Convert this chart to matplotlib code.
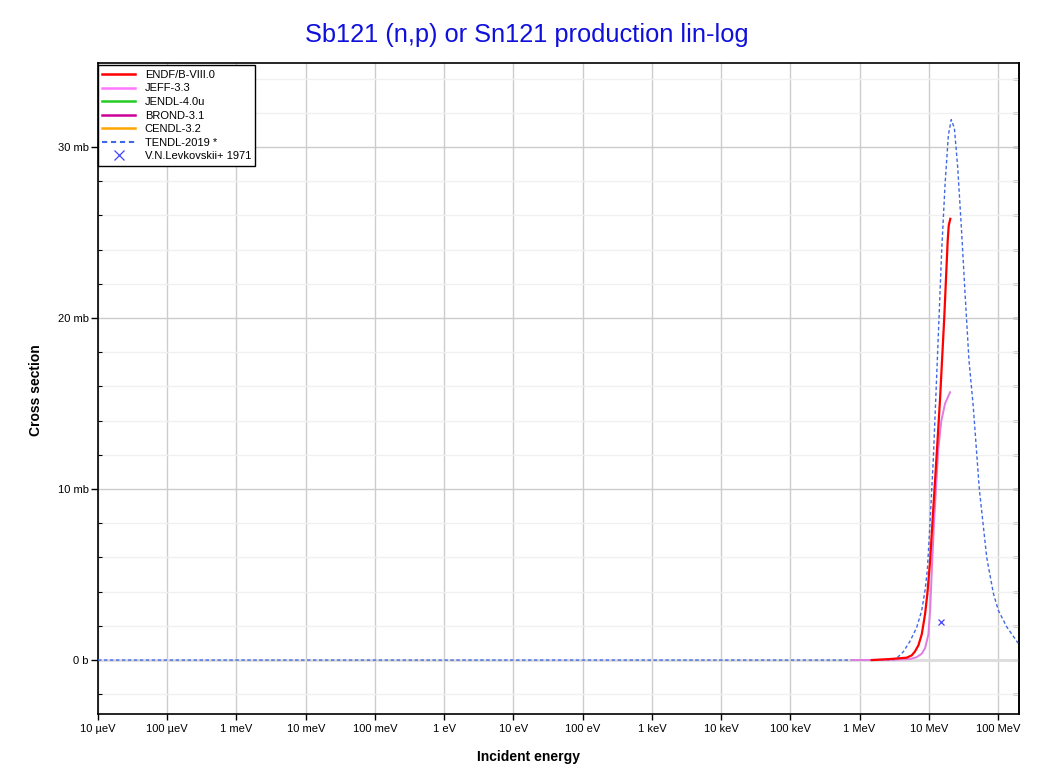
import matplotlib
matplotlib.use("Agg")
import matplotlib.pyplot as plt
from matplotlib.ticker import FixedLocator, MultipleLocator
from matplotlib.lines import Line2D

plt.rcParams['font.family'] = ['Liberation Sans', 'DejaVu Sans']

# ---------------- data (energies in MeV, cross sections in mb) ----------------
tendl_E = [1e-11, 3.08, 3.42, 4.28, 5.35, 6.68, 7.91, 8.85, 9.55, 10.42, 11.64, 12.59,
           13.74, 15.38, 17.18, 19.19, 21.13, 23.44, 26.18, 29.85, 33.34, 38.11, 43.95,
           53.70, 68.71, 85.70, 101.2, 133.4, 195.0]
tendl_xs = [0.0, 0.0, 0.1, 0.48, 1.1, 1.9, 2.9, 4.1, 5.3, 8.0, 11.8, 15.2,
            19.0, 24.0, 27.8, 30.7, 31.6, 31.1, 28.8, 25.0, 21.5, 17.5, 14.8,
            10.0, 6.0, 3.9, 2.9, 1.95, 0.99]

endf_E = [1.50, 2.74, 4.79, 5.65, 6.31, 7.08, 7.91, 8.85, 9.55, 10.45, 11.64, 13.0,
          14.52, 16.75, 18.75, 19.41, 20.46]
endf_xs = [0.0, 0.06, 0.14, 0.27, 0.5, 0.86, 1.5, 2.7, 3.9, 5.8, 8.9, 12.0,
           15.2, 20.06, 24.5, 25.4, 25.8]

jeff_E = [0.77, 3.0, 5.36, 6.68, 7.91, 8.85, 9.86, 10.5, 11.0, 11.9, 12.3, 13.7, 15.2,
          17.2, 20.3]
jeff_xs = [0.0, 0.02, 0.06, 0.17, 0.37, 0.7, 1.5, 3.0, 5.0, 8.0, 9.0, 12.3, 14.0,
           15.0, 15.66]

exp_E = [15.0]
exp_xs = [2.2]

xtick_vals = [1e-5, 1e-4, 1e-3, 1e-2, 1e-1, 1, 10, 100, 1e3, 1e4, 1e5, 1e6, 1e7, 1e8]
xtick_labels = ['10 µeV', '100 µeV', '1 meV', '10 meV', '100 meV', '1 eV', '10 eV',
                '100 eV', '1 keV', '10 keV', '100 keV', '1 MeV', '10 MeV', '100 MeV']
ytick_vals = [0, 10, 20, 30]
ytick_labels = ['0 b', '10 mb', '20 mb', '30 mb']

legend_labels = ['ENDF/B-VIII.0', 'JEFF-3.3', 'JENDL-4.0u', 'BROND-3.1', 'CENDL-3.2',
                 'TENDL-2019 *', 'V.N.Levkovskii+ 1971']
legend_colors = ['#ff0000', '#ff77ff', '#22cc22', '#cc0099', '#ffa500', '#4169e1', '#4444ff']

# ---------------- figure ----------------
fig = plt.figure(figsize=(10.45, 7.72), dpi=100)
ax = fig.add_axes([0.09378, 0.07474, 0.97512 - 0.09378, 0.91775 - 0.07474])
ax.set_xscale('log')
ax.set_xlim(1e-5, 2.01e8)
ax.set_ylim(-3.17, 34.88)

ev = lambda lst: [e * 1e6 for e in lst]

ax.plot(ev(tendl_E), tendl_xs, color=legend_colors[5], lw=1.0, ls=(0, (2.5, 1.8)), zorder=3)
ax.plot(ev(jeff_E), jeff_xs, color='#e07ce0', lw=1.4, zorder=4)
ax.plot(ev(endf_E), endf_xs, color=legend_colors[0], lw=1.6, zorder=5)
ax.plot(ev(exp_E), exp_xs, ls='none', marker='x', ms=5, mew=0.9, color=legend_colors[6], zorder=6)

# grid
ax.xaxis.set_major_locator(FixedLocator(xtick_vals))
ax.xaxis.set_minor_locator(FixedLocator([]))
ax.set_xticklabels(xtick_labels)
ax.yaxis.set_major_locator(FixedLocator(ytick_vals))
ax.set_yticklabels(ytick_labels)
ax.yaxis.set_minor_locator(MultipleLocator(2))
ax.grid(True, which='major', axis='x', color='#cccccc', lw=1.0)
ax.grid(True, which='major', axis='y', color='#cccccc', lw=1.0)
ax.grid(True, which='minor', axis='y', color='#f0f0f0', lw=1.0)
ax.axhline(0, color='#dddddd', lw=2.0, zorder=1)
ax.set_axisbelow(True)

ax.tick_params(axis='x', which='major', direction='out', length=4, width=1, pad=3,
               labelsize=8, bottom=True, top=False)
ax.tick_params(axis='y', which='major', direction='out', length=5, width=1, pad=1.5,
               labelsize=8, left=True, right=False)
ax.tick_params(axis='y', which='minor', direction='in', length=3, width=0.8, left=True, right=False)

sec = ax.secondary_yaxis('right')
sec.yaxis.set_major_locator(MultipleLocator(2))
sec.tick_params(axis='y', direction='in', length=4, width=1, labelright=False)
sec.spines['right'].set_linewidth(1.2)

for s in ax.spines.values():
    s.set_linewidth(1.2)
    s.set_color('black')

# legend
handles = []
for i, (lab, col) in enumerate(zip(legend_labels, legend_colors)):
    if i == 5:
        handles.append(Line2D([], [], color=col, lw=1.5, ls=(0, (2.5, 1.8))))
    elif i == 6:
        handles.append(Line2D([], [], color=col, ls='none', marker='x', ms=7, mew=0.9))
    else:
        handles.append(Line2D([], [], color=col, lw=1.8))
leg = ax.legend(handles, legend_labels, loc='upper left', bbox_to_anchor=(0.0, 0.997),
                borderaxespad=0, fontsize=8, frameon=True, fancybox=False,
                edgecolor='black', framealpha=1, labelspacing=0.32, handlelength=2.9,
                handletextpad=0.9, borderpad=0.4)
leg.get_frame().set_linewidth(1.0)

fig.text(0.504, 0.955, 'Sb121 (n,p) or Sn121 production lin-log', ha='center', va='center',
         fontsize=18.3, color='#1010dd')
fig.text(0.506, 0.019, 'Incident energy', ha='center', va='center', fontsize=10,
         fontweight='bold')
fig.text(0.034, 0.495, 'Cross section', ha='center', va='center', fontsize=10,
         fontweight='bold', rotation=90)

fig.savefig('out.png', dpi=100)
